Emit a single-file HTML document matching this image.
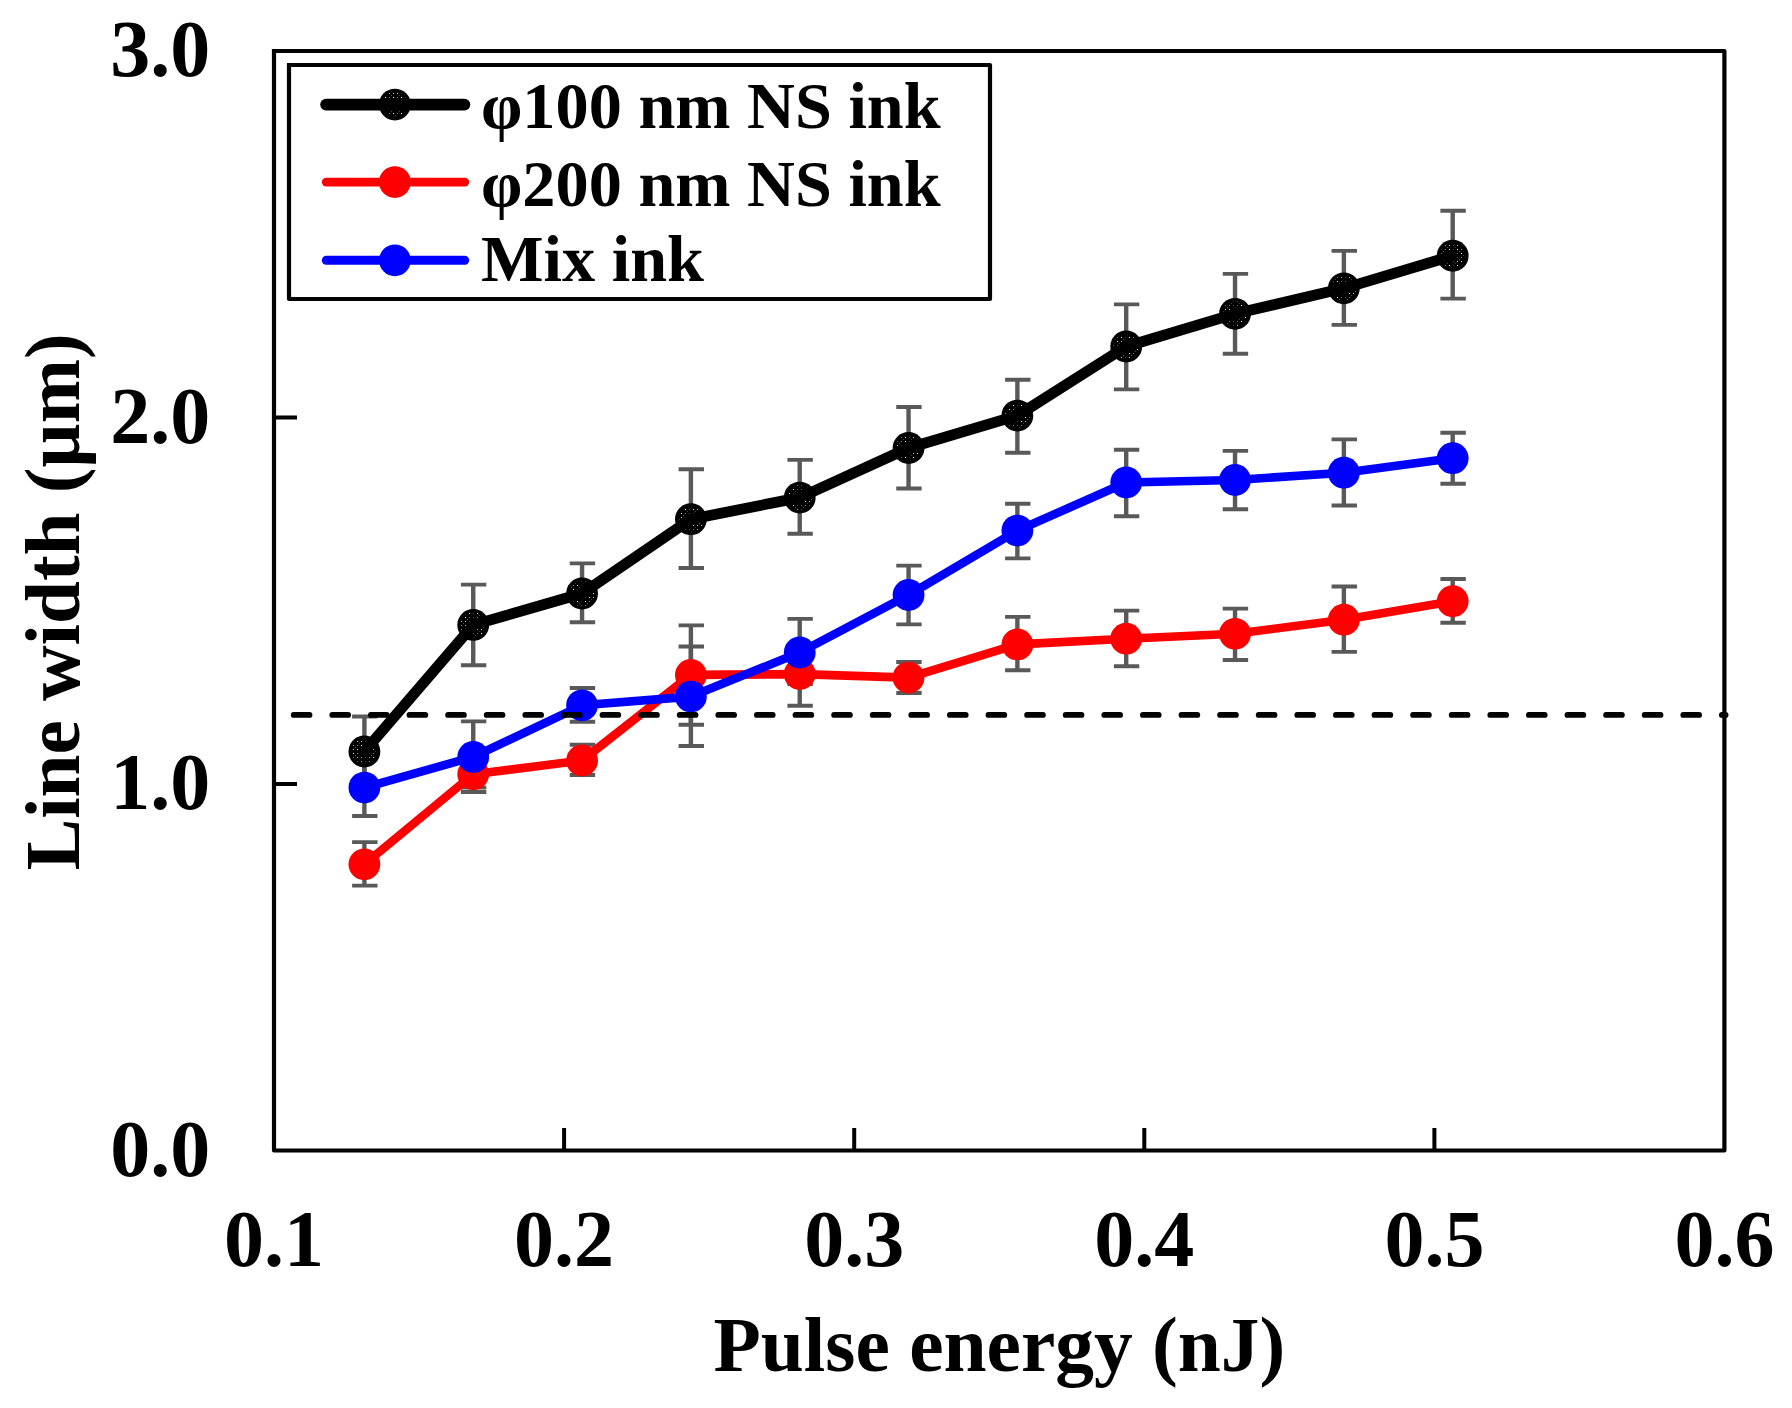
<!DOCTYPE html>
<html lang="en">
<head>
<meta charset="utf-8">
<title>Line width vs pulse energy</title>
<style>
html,body{margin:0;padding:0;background:#fff;}
body{width:1792px;height:1408px;overflow:hidden;}
svg{display:block;}
text{font-family:"Liberation Serif","DejaVu Serif",serif;font-weight:bold;fill:#000;}
</style>
</head>
<body>
<svg width="1792" height="1408" viewBox="0 0 1792 1408">
<defs>
<pattern id="dots" x="0" y="0" width="8" height="8" patternUnits="userSpaceOnUse">
<rect x="0" y="0" width="8" height="8" fill="#fff"/>
<rect x="1" y="1" width="1" height="1" fill="#000"/>
<rect x="5" y="1" width="1" height="1" fill="#777"/>
<rect x="1" y="5" width="1" height="1" fill="#333"/>
<rect x="5" y="5" width="1" height="1" fill="#111"/>
<rect x="3" y="3" width="1" height="1" fill="#999"/>
<rect x="7" y="7" width="1" height="1" fill="#bbb"/>
</pattern>
<mask id="mk" maskUnits="userSpaceOnUse" x="0" y="0" width="1792" height="1408">
<rect x="0" y="0" width="1792" height="1408" fill="#fff"/>
<g fill="url(#dots)"><circle cx="364.4" cy="751.5" r="12.6"/><circle cx="473.23" cy="624.9" r="12.6"/><circle cx="582.06" cy="593.5" r="12.6"/><circle cx="690.89" cy="519.2" r="12.6"/><circle cx="799.72" cy="497.6" r="12.6"/><circle cx="908.55" cy="448" r="12.6"/><circle cx="1017.38" cy="415.6" r="12.6"/><circle cx="1126.21" cy="346.5" r="12.6"/><circle cx="1235.04" cy="313.8" r="12.6"/><circle cx="1343.87" cy="288.3" r="12.6"/><circle cx="1452.7" cy="255.75" r="12.6"/><circle cx="394.9" cy="104.6" r="12.6"/></g>
</mask>
</defs>
<rect x="0" y="0" width="1792" height="1408" fill="#ffffff"/>

<path d="M274 51H1724.4V1150.5H274V51" fill="none" stroke="#000" stroke-width="4.2" stroke-linejoin="round" stroke-linecap="square"/>
<path d="M564.1 1150.5V1128M854.2 1150.5V1128M1144.3 1150.5V1128M1434.4 1150.5V1128M274 784H297M274 417.5H297" fill="none" stroke="#000" stroke-width="4"/>
<path d="M364.4 716.5V786.5M473.23 584.6V665.3M582.06 563.4V622.3M690.89 469.3V568M799.72 459.9V533.8M908.55 407V488.5M1017.38 379.7V452.8M1126.21 304.4V389.4M1235.04 273.9V353.7M1343.87 250.9V324.9M1452.7 210.7V298.6" fill="none" stroke="#595959" stroke-width="4.4"/><path d="M352.1 716.5H377.5M352.1 786.5H377.5M460.93 584.6H486.33M460.93 665.3H486.33M569.76 563.4H595.16M569.76 622.3H595.16M678.59 469.3H703.99M678.59 568H703.99M787.42 459.9H812.82M787.42 533.8H812.82M896.25 407H921.65M896.25 488.5H921.65M1005.08 379.7H1030.48M1005.08 452.8H1030.48M1113.91 304.4H1139.31M1113.91 389.4H1139.31M1222.74 273.9H1248.14M1222.74 353.7H1248.14M1331.57 250.9H1356.97M1331.57 324.9H1356.97M1440.4 210.7H1465.8M1440.4 298.6H1465.8" fill="none" stroke="#595959" stroke-width="3.9"/>
<path d="M364.4 842.1V885.6M473.23 761V787.6M582.06 744.8V775M690.89 625.4V724.7M799.72 645.5V705.7M908.55 662V693M1017.38 616.9V670.3M1126.21 610.6V666.25M1235.04 608.6V660M1343.87 586.5V651.9M1452.7 579V622.7" fill="none" stroke="#595959" stroke-width="4.4"/><path d="M352.1 842.1H377.5M352.1 885.6H377.5M460.93 761H486.33M460.93 787.6H486.33M569.76 744.8H595.16M569.76 775H595.16M678.59 625.4H703.99M678.59 724.7H703.99M787.42 645.5H812.82M787.42 705.7H812.82M896.25 662H921.65M896.25 693H921.65M1005.08 616.9H1030.48M1005.08 670.3H1030.48M1113.91 610.6H1139.31M1113.91 666.25H1139.31M1222.74 608.6H1248.14M1222.74 660H1248.14M1331.57 586.5H1356.97M1331.57 651.9H1356.97M1440.4 579H1465.8M1440.4 622.7H1465.8" fill="none" stroke="#595959" stroke-width="3.9"/>
<path d="M364.4 759.6V816M473.23 721.4V792M582.06 688V721.8M690.89 646.5V746M799.72 618.9V684M908.55 565.6V624.4M1017.38 503.75V558.4M1126.21 449.7V516.25M1235.04 450.9V509.2M1343.87 439.4V505.5M1452.7 432.75V483.7" fill="none" stroke="#595959" stroke-width="4.4"/><path d="M352.1 759.6H377.5M352.1 816H377.5M460.93 721.4H486.33M460.93 792H486.33M569.76 688H595.16M569.76 721.8H595.16M678.59 646.5H703.99M678.59 746H703.99M787.42 618.9H812.82M787.42 684H812.82M896.25 565.6H921.65M896.25 624.4H921.65M1005.08 503.75H1030.48M1005.08 558.4H1030.48M1113.91 449.7H1139.31M1113.91 516.25H1139.31M1222.74 450.9H1248.14M1222.74 509.2H1248.14M1331.57 439.4H1356.97M1331.57 505.5H1356.97M1440.4 432.75H1465.8M1440.4 483.7H1465.8" fill="none" stroke="#595959" stroke-width="3.9"/>
<polyline points="364.4,751.5 473.23,624.9 582.06,593.5 690.89,519.2 799.72,497.6 908.55,448 1017.38,415.6 1126.21,346.5 1235.04,313.8 1343.87,288.3 1452.7,255.75" fill="none" stroke="#000" stroke-width="10.8" stroke-linejoin="round" stroke-linecap="round"/>
<g fill="#000" mask="url(#mk)"><circle cx="364.4" cy="751.5" r="15.9"/><circle cx="473.23" cy="624.9" r="15.9"/><circle cx="582.06" cy="593.5" r="15.9"/><circle cx="690.89" cy="519.2" r="15.9"/><circle cx="799.72" cy="497.6" r="15.9"/><circle cx="908.55" cy="448" r="15.9"/><circle cx="1017.38" cy="415.6" r="15.9"/><circle cx="1126.21" cy="346.5" r="15.9"/><circle cx="1235.04" cy="313.8" r="15.9"/><circle cx="1343.87" cy="288.3" r="15.9"/><circle cx="1452.7" cy="255.75" r="15.9"/></g>
<polyline points="364.4,864.3 473.23,774.3 582.06,760.5 690.89,674.9 799.72,674.1 908.55,677.6 1017.38,644.4 1126.21,638.75 1235.04,633.8 1343.87,619.7 1452.7,601.25" fill="none" stroke="#f00" stroke-width="8.6" stroke-linejoin="round" stroke-linecap="round"/>
<g fill="#f00"><circle cx="364.4" cy="864.3" r="15.9"/><circle cx="473.23" cy="774.3" r="15.9"/><circle cx="582.06" cy="760.5" r="15.9"/><circle cx="690.89" cy="674.9" r="15.9"/><circle cx="799.72" cy="674.1" r="15.9"/><circle cx="908.55" cy="677.6" r="15.9"/><circle cx="1017.38" cy="644.4" r="15.9"/><circle cx="1126.21" cy="638.75" r="15.9"/><circle cx="1235.04" cy="633.8" r="15.9"/><circle cx="1343.87" cy="619.7" r="15.9"/><circle cx="1452.7" cy="601.25" r="15.9"/></g>
<polyline points="364.4,787.6 473.23,756.9 582.06,705.3 690.89,696.6 799.72,652.5 908.55,595 1017.38,530.6 1126.21,482.5 1235.04,480 1343.87,472.7 1452.7,458.2" fill="none" stroke="#00f" stroke-width="8.6" stroke-linejoin="round" stroke-linecap="round"/>
<g fill="#00f"><circle cx="364.4" cy="787.6" r="15.9"/><circle cx="473.23" cy="756.9" r="15.9"/><circle cx="582.06" cy="705.3" r="15.9"/><circle cx="690.89" cy="696.6" r="15.9"/><circle cx="799.72" cy="652.5" r="15.9"/><circle cx="908.55" cy="595" r="15.9"/><circle cx="1017.38" cy="530.6" r="15.9"/><circle cx="1126.21" cy="482.5" r="15.9"/><circle cx="1235.04" cy="480" r="15.9"/><circle cx="1343.87" cy="472.7" r="15.9"/><circle cx="1452.7" cy="458.2" r="15.9"/></g>
<path d="M293.7 714.9H1725.6" fill="none" stroke="#000" stroke-width="5.8" stroke-linecap="round" stroke-dasharray="15.8 22.8"/>
<path d="M289 65H990V299H289V65" fill="#fff" stroke="#000" stroke-width="4.2" stroke-linejoin="round" stroke-linecap="square"/>
<path d="M326 104.6H464.5" stroke="#000" stroke-width="11.6" stroke-linecap="round" fill="none"/>
<circle cx="394.9" cy="104.6" r="15.9" fill="#000" mask="url(#mk)"/>
<text x="481" y="127.9" font-size="66.3">φ100 nm NS ink</text>
<path d="M326.25 182.1H464.75" stroke="#f00" stroke-width="8.9" stroke-linecap="round" fill="none"/>
<circle cx="394.9" cy="182.1" r="15.9" fill="#f00"/>
<text x="481" y="205.8" font-size="66.3">φ200 nm NS ink</text>
<path d="M326.25 260.3H464.75" stroke="#00f" stroke-width="8.9" stroke-linecap="round" fill="none"/>
<circle cx="394.9" cy="260.3" r="15.9" fill="#00f"/>
<text x="481" y="280.9" font-size="66.3">Mix ink</text>
<text x="210.3" y="76" font-size="80" text-anchor="end">3.0</text>
<text x="210.3" y="442.5" font-size="80" text-anchor="end">2.0</text>
<text x="210.3" y="809" font-size="80" text-anchor="end">1.0</text>
<text x="210.3" y="1175.5" font-size="80" text-anchor="end">0.0</text>
<text x="274" y="1266.4" font-size="80" text-anchor="middle">0.1</text>
<text x="564.1" y="1266.4" font-size="80" text-anchor="middle">0.2</text>
<text x="854.2" y="1266.4" font-size="80" text-anchor="middle">0.3</text>
<text x="1144.3" y="1266.4" font-size="80" text-anchor="middle">0.4</text>
<text x="1434.4" y="1266.4" font-size="80" text-anchor="middle">0.5</text>
<text x="1724.5" y="1266.4" font-size="80" text-anchor="middle">0.6</text>
<text x="999.4" y="1370.8" font-size="78.3" textLength="571.7" lengthAdjust="spacingAndGlyphs" text-anchor="middle">Pulse energy (nJ)</text>
<text transform="translate(79.2 601.8) rotate(-90)" font-size="78.4" textLength="536.9" lengthAdjust="spacingAndGlyphs" text-anchor="middle">Line width (µm)</text>
</svg>
</body>
</html>
